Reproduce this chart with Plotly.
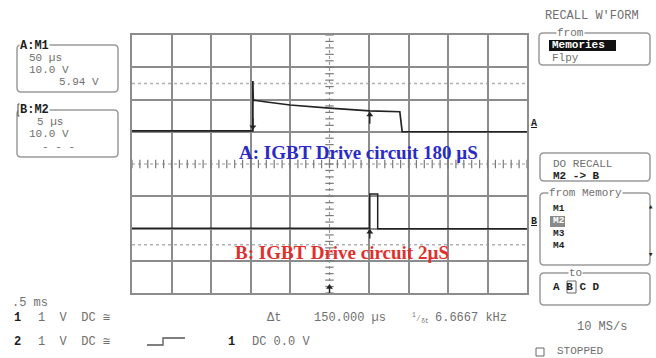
import plotly.graph_objects as go
import numpy as np

W, H = 656, 358

# ---- data (time in microseconds, amplitude in screen divisions) ----
time_a = [0, 153, 153, 153.5, 168, 200, 250, 301, 339, 342, 500]
level_a = [1.03, 1.03, 2.57, 1.98, 1.93, 1.83, 1.73, 1.65, 1.62, 1.00, 1.00]
time_b = [0, 301, 301, 311, 311, 500]
level_b = [-1.99, -1.99, -0.93, -0.93, -2.01, -2.01]
cursor_times = [153, 301]
x_grid = [0, 50, 100, 150, 200, 300, 350, 400, 450, 500]
y_grid = [-4, -3, -2, -1, 1, 2, 3, 4]

GRID = "#8c8c8c"
GRAYTXT = "#707070"
DARK = "#1e1e1e"
MONO = "Liberation Mono, DejaVu Sans Mono, monospace"
SERIF = "Liberation Serif, Times New Roman, serif"


def X(px):
    return px / W


def Y(py):
    return 1 - py / H


fig = go.Figure()

# centre graticule lines with minor ticks
fig.add_trace(go.Scatter(x=[0, 500], y=[0, 0], mode="lines",
                         line=dict(color="#9a9a9a", width=1.2, dash="dot"),
                         hoverinfo="skip", showlegend=False))
fig.add_trace(go.Scatter(x=[250, 250], y=[-4, 4], mode="lines",
                         line=dict(color="#9a9a9a", width=1.2, dash="dot"),
                         hoverinfo="skip", showlegend=False))
tx = np.arange(0, 500.1, 10)
fig.add_trace(go.Scatter(x=tx, y=np.zeros_like(tx), mode="markers",
                         marker=dict(symbol="line-ns", size=6,
                                     line=dict(color="#7a7a7a", width=1.2)),
                         hoverinfo="skip", showlegend=False))
ty = np.arange(-4, 4.01, 0.2)
fig.add_trace(go.Scatter(x=np.full_like(ty, 250), y=ty, mode="markers",
                         marker=dict(symbol="line-ew", size=6,
                                     line=dict(color="#7a7a7a", width=1.2)),
                         hoverinfo="skip", showlegend=False))

# waveforms
fig.add_trace(go.Scatter(x=time_a, y=level_a, mode="lines",
                         line=dict(color="#222222", width=1.7),
                         showlegend=False))
fig.add_trace(go.Scatter(x=time_b, y=level_b, mode="lines",
                         line=dict(color="#222222", width=1.5),
                         showlegend=False))

# cursor and trigger arrows (stems + heads)
stem_x = [cursor_times[0], cursor_times[0], None,
          cursor_times[1], cursor_times[1], None,
          cursor_times[1], cursor_times[1], None,
          250, 250]
stem_y = [level_a[1] + 0.40, level_a[1] + 0.08, None,
          level_a[7] - 0.40, level_a[7] - 0.05, None,
          level_b[0] - 0.32, level_b[0] - 0.05, None,
          -4.0, -3.75]
fig.add_trace(go.Scatter(x=stem_x, y=stem_y, mode="lines",
                         line=dict(color="#222222", width=1.4),
                         hoverinfo="skip", showlegend=False))
fig.add_trace(go.Scatter(x=[cursor_times[0]], y=[level_a[1] + 0.12], mode="markers",
                         marker=dict(symbol="triangle-down", size=6, color="#222222"),
                         hoverinfo="skip", showlegend=False))
fig.add_trace(go.Scatter(x=[cursor_times[1], cursor_times[1], 250],
                         y=[level_a[7] - 0.12, level_b[0] - 0.12, -3.82], mode="markers",
                         marker=dict(symbol="triangle-up", size=6, color="#222222"),
                         hoverinfo="skip", showlegend=False))

shapes = []
# dashed half-division lines
for yv in (2.5, -2.5):
    shapes.append(dict(type="line", xref="x", yref="y", x0=0, x1=500, y0=yv, y1=yv,
                       line=dict(color="#b0b0b0", width=1.5, dash="dot"), layer="below"))


def rbox(x0, y0, x1, y1, r=4, color="#9a9a9a", width=1.5):
    p = (f"M {X(x0+r)},{Y(y0)} L {X(x1-r)},{Y(y0)} Q {X(x1)},{Y(y0)} {X(x1)},{Y(y0+r)} "
         f"L {X(x1)},{Y(y1-r)} Q {X(x1)},{Y(y1)} {X(x1-r)},{Y(y1)} "
         f"L {X(x0+r)},{Y(y1)} Q {X(x0)},{Y(y1)} {X(x0)},{Y(y1-r)} "
         f"L {X(x0)},{Y(y0+r)} Q {X(x0)},{Y(y0)} {X(x0+r)},{Y(y0)} Z")
    return dict(type="path", xref="paper", yref="paper", path=p,
                line=dict(color=color, width=width))


shapes += [
    rbox(17, 45, 118, 92),
    rbox(17, 110, 118, 157),
    rbox(539, 33, 650, 65),
    rbox(540, 153, 650, 181),
    rbox(540, 193, 650, 265),
    rbox(540, 273, 650, 305),
]
# trigger step symbol
step = [(147, 345), (163, 345), (163, 338), (185, 338)]
shapes.append(dict(type="path", xref="paper", yref="paper",
                   path="M " + " L ".join(f"{X(a)},{Y(b)}" for a, b in step),
                   line=dict(color="#555555", width=1.3)))
# highlight boxes
shapes.append(dict(type="rect", xref="paper", yref="paper", x0=X(549), x1=X(616),
                   y0=Y(51), y1=Y(40), fillcolor="#111111", line=dict(width=0)))
shapes.append(dict(type="rect", xref="paper", yref="paper", x0=X(550), x1=X(565),
                   y0=Y(227), y1=Y(216), fillcolor="#8a8a8a", line=dict(width=0)))
shapes.append(dict(type="rect", xref="paper", yref="paper", x0=X(567), x1=X(576),
                   y0=Y(293), y1=Y(281), fillcolor="rgba(0,0,0,0)",
                   line=dict(color="#666", width=1)))
shapes.append(dict(type="rect", xref="paper", yref="paper", x0=X(18), x1=X(27),
                   y0=Y(116), y1=Y(104), fillcolor="white",
                   line=dict(color="#444", width=1)))
shapes.append(dict(type="rect", xref="paper", yref="paper", x0=X(536), x1=X(544),
                   y0=Y(356), y1=Y(348), fillcolor="white",
                   line=dict(color="#666", width=1)))

ann = []


def txt(x, y, s, size=11, color=GRAYTXT, bold=False, anchor="left", family=MONO, bg=None):
    d = dict(x=X(x), y=Y(y), xref="paper", yref="paper", text=s, showarrow=False,
             xanchor=anchor, yanchor="middle",
             font=dict(family=family, size=size, color=color,
                       weight="bold" if bold else "normal"))
    if bg:
        d["bgcolor"] = bg
        d["borderpad"] = 0
    ann.append(d)


# main labels
txt(358, 152, "<b>A: IGBT Drive circuit 180 µS</b>", size=19, color="#2a2ac6",
    anchor="center", family=SERIF)
txt(342, 252, "<b>B: IGBT Drive circuit 2µS</b>", size=19, color="#e0302e",
    anchor="center", family=SERIF)

# left panels
txt(19, 46, "A:M1", size=12, color=DARK, bold=True, bg="white")
txt(27, 58, "50 µs")
txt(27, 70, "10.0 V")
txt(101, 82, "5.94 V", anchor="right")
txt(19, 110, "B:M2", size=12, color=DARK, bold=True, bg="white")
txt(35, 122, "5 µs")
txt(27, 134, "10.0 V")
txt(40, 147, "- - -")

# right panel
txt(543, 16, "RECALL W'FORM", size=12)
txt(556, 33, "from", bg="white")
txt(550, 45, "Memories", color="white", bold=True)
txt(550, 58, "Flpy")
txt(551, 164, "DO RECALL")
txt(551, 176, "M2 -> B", color=DARK, bold=True)
txt(548, 193, "from Memory", bg="white")
txt(551, 227, "M1<br><span style='color:white'>M2</span><br>M3<br>M4",
    size=9.5, color=DARK, bold=True)
txt(650, 207, "▴", size=9, color=DARK, anchor="center")
txt(650, 255, "▾", size=9, color=DARK, anchor="center")
txt(568, 273, "to", bg="white")
txt(551, 287, "A B C D", color=DARK, bold=True)

# channel markers at the right edge of the screen
txt(529, 124, "<u>A</u>", size=10, color=DARK, bold=True)
txt(529, 222, "<u>B</u>", size=10, color=DARK, bold=True)

# bottom status
txt(10, 303, ".5 ms", size=12)
txt(12, 318, "1", size=12, color=DARK, bold=True)
txt(36, 318, "1  V  DC ≅", size=12)
txt(12, 342, "2", size=12, color=DARK, bold=True)
txt(36, 342, "1  V  DC ≅", size=12)
txt(226, 342, "1", size=12, color=DARK, bold=True)
txt(250, 342, "DC 0.0 V", size=12)
txt(265, 318, "Δt", size=12)
txt(312, 318, "150.000 µs", size=12)
txt(410, 318, "<sup>1</sup>⁄<sub>δt</sub>", size=9)
txt(433, 318, "6.6667 kHz", size=12)
txt(575, 327, "10 MS/s", size=12)
txt(555, 351, "STOPPED")

axis_common = dict(showticklabels=False, ticks="", showgrid=True, gridcolor=GRID,
                   gridwidth=1.5, zeroline=False, showline=True, mirror=True,
                   linecolor=GRID, linewidth=1.5)
fig.update_layout(
    width=W, height=H, margin=dict(l=0, r=0, t=0, b=0),
    paper_bgcolor="white", plot_bgcolor="white", showlegend=False,
    xaxis=dict(range=[0, 500], domain=[X(132), X(527)], tickvals=x_grid, **axis_common),
    yaxis=dict(range=[-4, 4], domain=[Y(293), Y(35)], tickvals=y_grid, **axis_common),
    shapes=shapes, annotations=ann,
)

fig.write_html("out.html")
